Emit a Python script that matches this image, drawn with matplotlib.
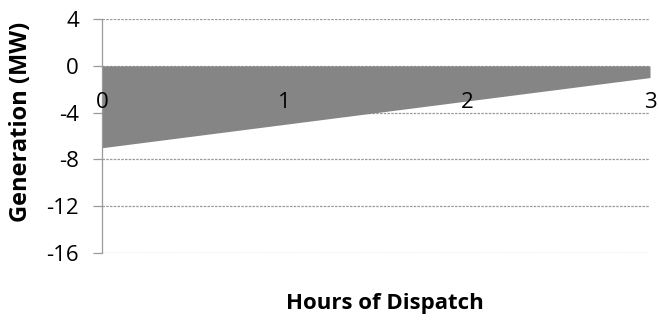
import numpy as np
import matplotlib
matplotlib.use("Agg")
import matplotlib.pyplot as plt

plt.rcParams['font.family'] = ['Open Sans', 'DejaVu Sans']

# Data
hours = [0, 1, 2, 3]
generation = [-7, -5, -3, -1]
y_ticks = [4, 0, -4, -8, -12, -16]

fig = plt.figure(figsize=(6.59, 3.29), dpi=100)
ax = fig.add_axes([102 / 659, 0.231, 548 / 659, 0.711])

# gridlines under the fill
for yv in y_ticks:
    ax.axhline(yv, color='#9a9a9a', linewidth=0.9, linestyle=(0, (2, 1)), zorder=1)

ax.fill_between(hours, 0, generation, color='#858585', linewidth=0, zorder=2)

ax.set_xlim(0, 3)
ax.set_ylim(-16, 4)
ax.set_yticks(y_ticks)
ax.set_yticklabels([str(v) for v in y_ticks], fontsize=16)
ax.tick_params(axis='y', length=6.5, color='#9a9a9a', width=0.9, pad=10)

# x labels sit just under the zero line, on top of the fill
ax.set_xticks([])
for h in hours:
    ax.text(h, -3.1, str(h), fontsize=16, ha='center', va='center', zorder=3)

for s in ['top', 'right', 'bottom']:
    ax.spines[s].set_visible(False)
ax.spines['left'].set_color('#9a9a9a')
ax.spines['left'].set_linestyle((0, (2, 1)))
ax.spines['left'].set_linewidth(0.9)

fig.text(21 / 659, 1 - 122 / 329, 'Generation (MW)', fontsize=17, fontweight='bold',
         rotation=90, ha='center', va='center')
fig.text(385 / 659, 1 - 303 / 329, 'Hours of Dispatch', fontsize=16, fontweight='bold',
         ha='center', va='center')

fig.savefig('out.png', dpi=100)
